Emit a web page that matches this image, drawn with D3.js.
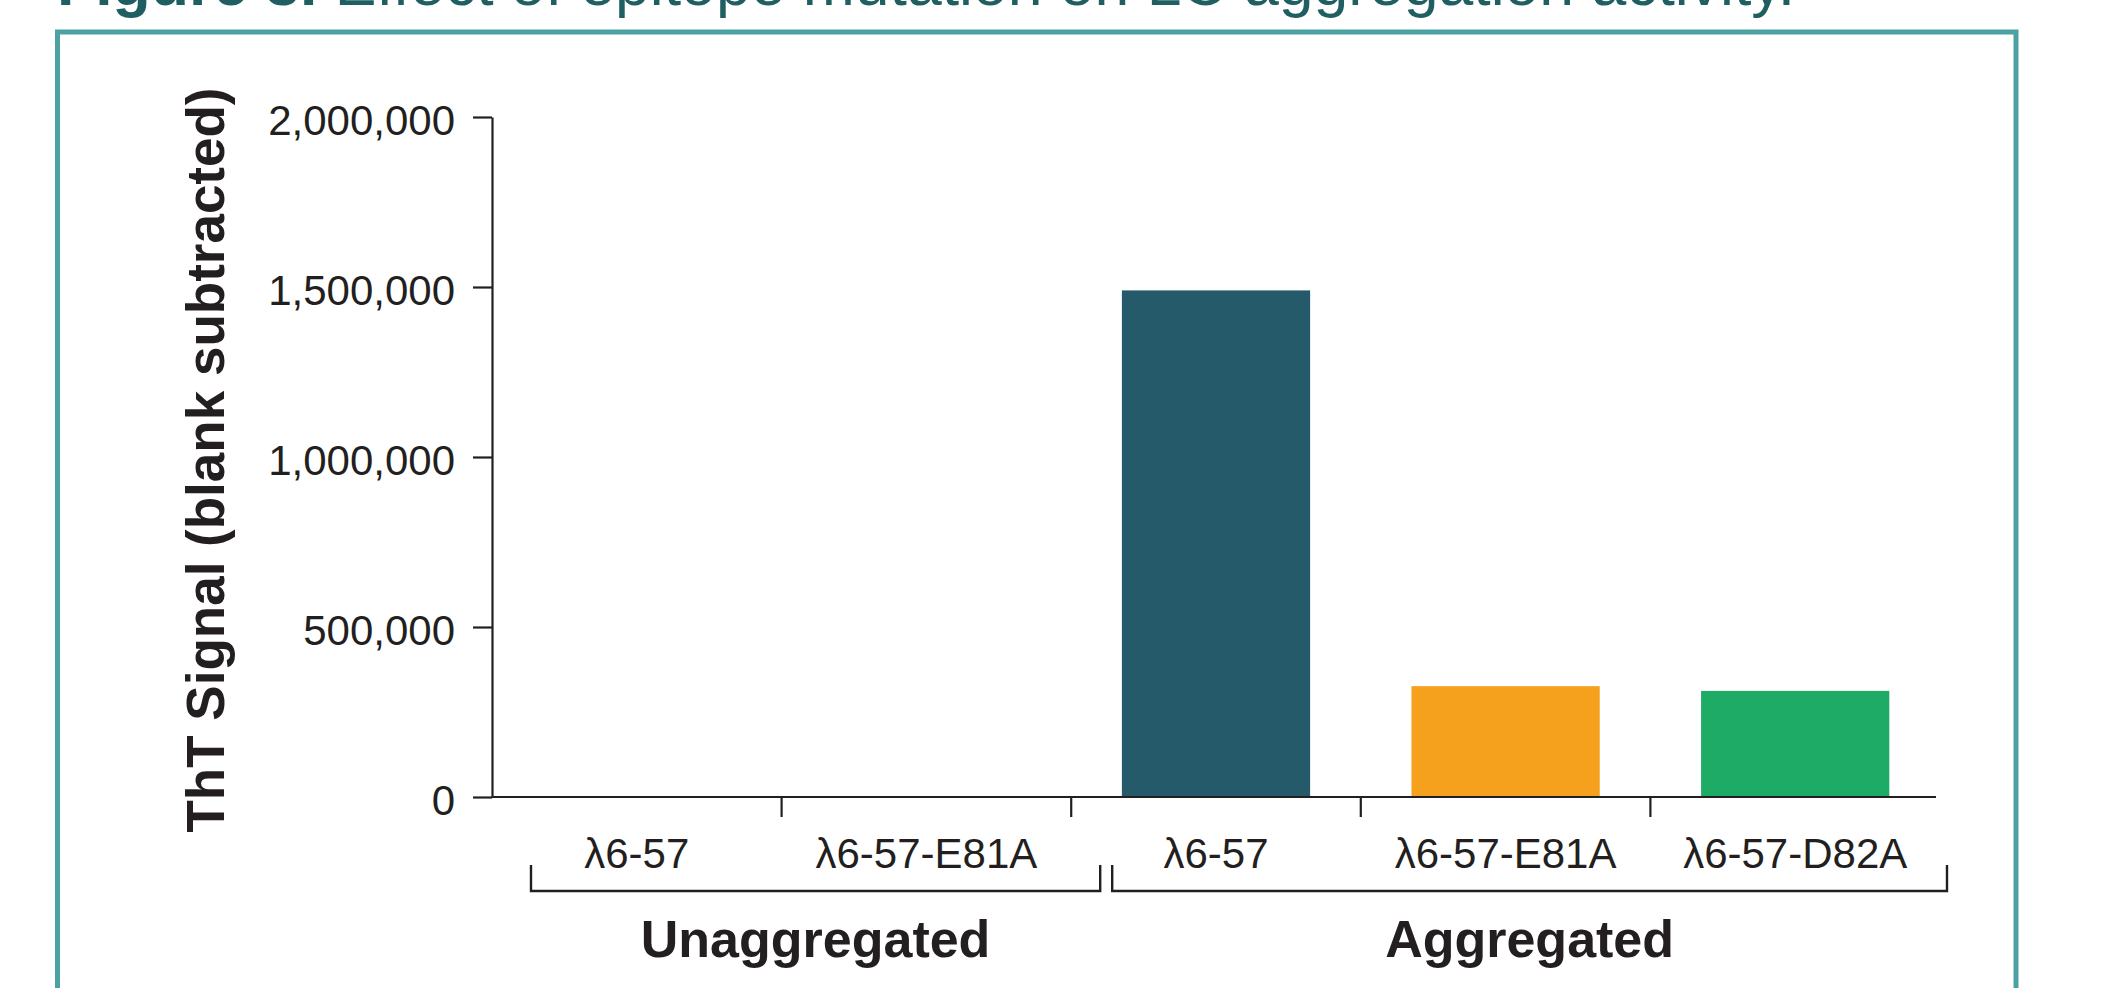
<!DOCTYPE html>
<html>
<head>
<meta charset="utf-8">
<script src="https://cdn.jsdelivr.net/npm/d3@7/dist/d3.min.js"></script>
<style>
  html, body { margin: 0; padding: 0; background: #ffffff; }
  svg { display: block; }
  text { font-family: "Liberation Sans", Arial, Helvetica, sans-serif; }
</style>
</head>
<body>
<svg id="chart" width="2109" height="988"></svg>
<script>
// ThT signal per sample, in plot order
const sampleIds   = ["u1", "u2", "a1", "a2", "a3"];
const sampleNames = ["λ6-57", "λ6-57-E81A", "λ6-57", "λ6-57-E81A", "λ6-57-D82A"];
const thtSignal   = [0, 0, 1490000, 326000, 312000];
const barColors   = ["#245a69", "#245a69", "#245a69", "#f6a11e", "#1dab66"];

// Grouping of the samples under the axis
const groupNames = ["Unaggregated", "Aggregated"];
const groupFirst = [0, 2];
const groupLast  = [1, 4];

// Y axis ticks
const yTicks = [0, 500000, 1000000, 1500000, 2000000];

const titleBold = "Figure 3.";
const titleRest = " Effect of epitope mutation on LC aggregation activity.";
const yTitle = "ThT Signal (blank subtracted)";

const ink = "#231f20";
const svg = d3.select("#chart");

svg.append("rect").attr("width", 2109).attr("height", 988).attr("fill", "#fff");

// Figure title (runs off the top edge)
const title = svg.append("text")
  .attr("x", 57).attr("y", 5)
  .attr("font-size", 62.5)
  .attr("fill", "#1f5e61");
title.append("tspan").attr("font-weight", "bold").text(titleBold);
title.append("tspan").text(titleRest);

// Panel frame
svg.append("rect")
  .attr("x", 57.5).attr("y", 32)
  .attr("width", 1958.5).attr("height", 1100)
  .attr("fill", "none")
  .attr("stroke", "#4aa2a3")
  .attr("stroke-width", 5);

// Scales
const x = d3.scaleBand()
  .domain(sampleIds)
  .range([492, 1940])
  .paddingInner(0.35)
  .paddingOuter(0.175);

const y = d3.scaleLinear()
  .domain([0, 2000000])
  .range([797, 117]);

const step = x.step();
const bandStart = id => x(id) - step * x.paddingInner() / 2;
const bandEnd = id => bandStart(id) + step;

// Bars
svg.append("g").selectAll("rect")
  .data(sampleIds)
  .join("rect")
  .attr("x", d => x(d))
  .attr("width", x.bandwidth())
  .attr("y", (d, i) => y(thtSignal[i]))
  .attr("height", (d, i) => y(0) - y(thtSignal[i]))
  .attr("fill", (d, i) => barColors[i]);

// Y axis
const yAxis = svg.append("g")
  .attr("transform", "translate(492,0)")
  .call(d3.axisLeft(y)
    .tickValues(yTicks)
    .tickFormat(d3.format(","))
    .tickSize(19)
    .tickSizeOuter(0)
    .tickPadding(18));
yAxis.select(".domain").attr("stroke", ink).attr("stroke-width", 2.2);
yAxis.selectAll(".tick line").attr("stroke", ink).attr("stroke-width", 2.2);
yAxis.selectAll(".tick text")
  .attr("font-size", 42)
  .attr("font-family", "Liberation Sans, Arial, sans-serif")
  .attr("fill", ink)
  .attr("dy", "0.42em");

// X axis baseline
svg.append("line")
  .attr("x1", 492).attr("x2", 1936)
  .attr("y1", y(0)).attr("y2", y(0))
  .attr("stroke", ink).attr("stroke-width", 2.2);

// Ticks between samples
svg.append("g").selectAll("line")
  .data(sampleIds.slice(0, -1))
  .join("line")
  .attr("x1", d => bandEnd(d)).attr("x2", d => bandEnd(d))
  .attr("y1", y(0)).attr("y2", y(0) + 20)
  .attr("stroke", ink).attr("stroke-width", 2.2);

// Sample labels
svg.append("g").selectAll("text")
  .data(sampleIds)
  .join("text")
  .attr("x", d => x(d) + x.bandwidth() / 2)
  .attr("y", 868)
  .attr("text-anchor", "middle")
  .attr("font-size", 42)
  .attr("fill", ink)
  .text((d, i) => sampleNames[i]);

// Group brackets and labels
const bracketInsetL = [39, 41];
const bracketInsetR = [29, 7];
const groups = groupNames.map((name, g) => ({
  name,
  left: bandStart(sampleIds[groupFirst[g]]) + bracketInsetL[g],
  right: bandEnd(sampleIds[groupLast[g]]) + bracketInsetR[g]
}));

const gb = svg.append("g").selectAll("g").data(groups).join("g");
gb.append("path")
  .attr("d", d => `M${d.left},865V891H${d.right}V865`)
  .attr("fill", "none")
  .attr("stroke", ink)
  .attr("stroke-width", 2.4);
gb.append("text")
  .attr("x", d => (d.left + d.right) / 2)
  .attr("y", 957)
  .attr("text-anchor", "middle")
  .attr("font-size", 52)
  .attr("font-weight", "bold")
  .attr("fill", ink)
  .text(d => d.name);

// Y axis title
svg.append("text")
  .attr("transform", "translate(224,460) rotate(-90)")
  .attr("text-anchor", "middle")
  .attr("font-size", 53)
  .attr("font-weight", "bold")
  .attr("fill", ink)
  .text(yTitle);
</script>
</body>
</html>
